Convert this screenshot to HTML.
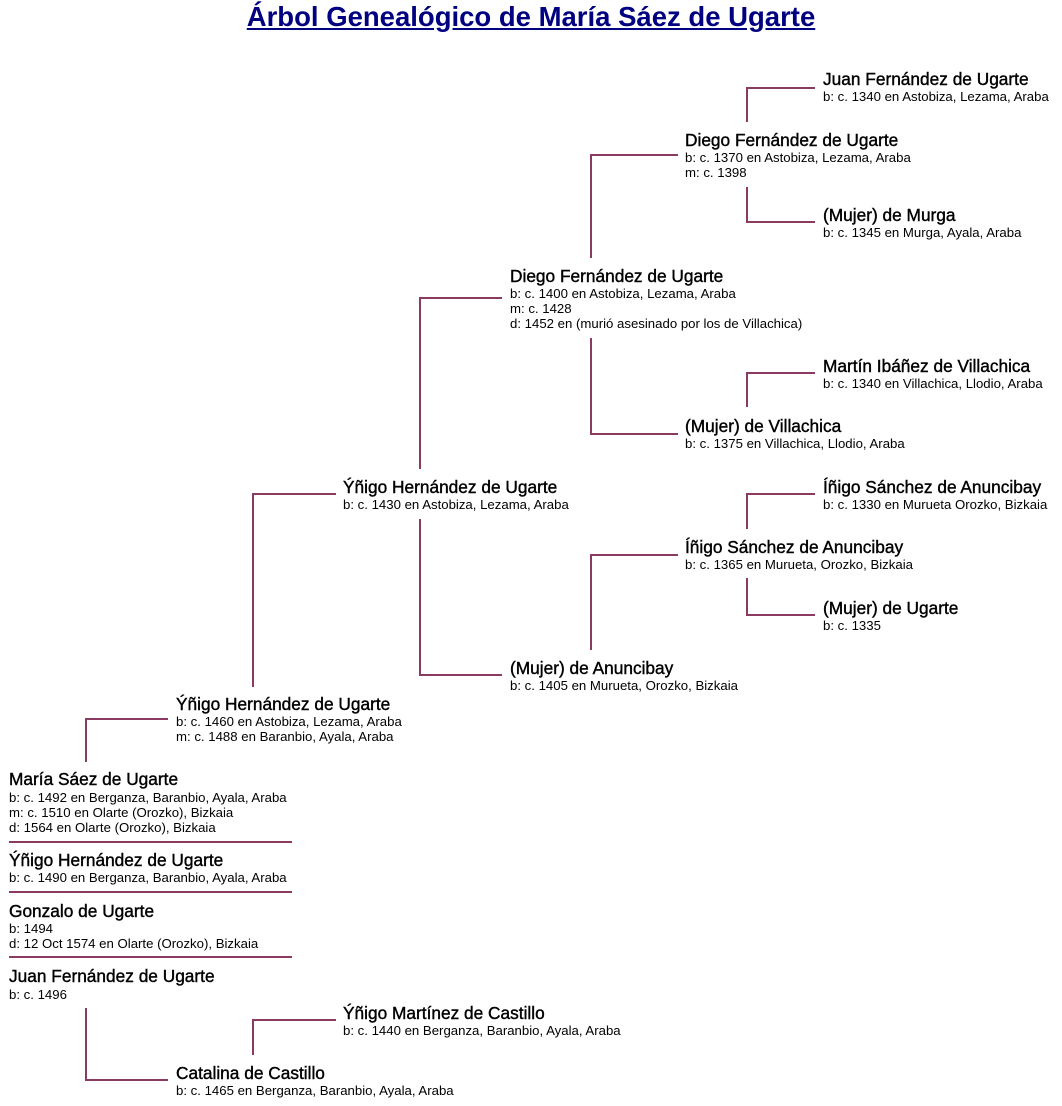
<!DOCTYPE html>
<html><head><meta charset="utf-8">
<style>
body{margin:0;width:1062px;height:1106px;background:#fff;position:relative;font-family:"Liberation Sans",Arial,sans-serif;overflow:hidden}
h1{position:absolute;left:0;width:1062px;top:1px;margin:0;text-align:center;font-size:27.5px;line-height:32px;color:#000080;text-decoration:underline;font-weight:bold}
.n{position:absolute;white-space:nowrap;color:#000}
.n b{display:block;font-size:17.3px;line-height:16px;padding-top:1px;font-weight:normal;-webkit-text-stroke:0.4px #000}
.n div{font-size:13.2px;line-height:15px;margin-top:2px}
</style></head><body>
<h1>Árbol Genealógico de María Sáez de Ugarte</h1>
<svg width="1062" height="1106" style="position:absolute;left:0;top:0" fill="none" stroke="#8b3a62" stroke-width="2">
<path d="M747 122V88H815"/>
<path d="M747 187V222H815"/>
<path d="M591 258V155H678"/>
<path d="M591 338V434H678"/>
<path d="M747 407V373H815"/>
<path d="M420 469V298H502"/>
<path d="M420 519V675H502"/>
<path d="M747 529V494H815"/>
<path d="M591 650V555H678"/>
<path d="M747 578V615H815"/>
<path d="M253 687V494H336"/>
<path d="M86 762V719H168"/>
<path d="M86 1008V1080H168"/>
<path d="M253 1055V1020H336"/>
<path d="M9 842H292M9 892H292M9 957H292"/>
</svg>
<div class="n" style="left:823px;top:70px"><b>Juan Fernández de Ugarte</b><div>b: c. 1340 en Astobiza, Lezama, Araba</div></div>
<div class="n" style="left:685px;top:131px"><b>Diego Fernández de Ugarte</b><div>b: c. 1370 en Astobiza, Lezama, Araba<br>m: c. 1398</div></div>
<div class="n" style="left:823px;top:206px"><b>(Mujer) de Murga</b><div>b: c. 1345 en Murga, Ayala, Araba</div></div>
<div class="n" style="left:510px;top:267px"><b>Diego Fernández de Ugarte</b><div>b: c. 1400 en Astobiza, Lezama, Araba<br>m: c. 1428<br>d: 1452 en (murió asesinado por los de Villachica)</div></div>
<div class="n" style="left:823px;top:357px"><b>Martín Ibáñez de Villachica</b><div>b: c. 1340 en Villachica, Llodio, Araba</div></div>
<div class="n" style="left:685px;top:417px"><b>(Mujer) de Villachica</b><div>b: c. 1375 en Villachica, Llodio, Araba</div></div>
<div class="n" style="left:343px;top:478px"><b>Ýñigo Hernández de Ugarte</b><div>b: c. 1430 en Astobiza, Lezama, Araba</div></div>
<div class="n" style="left:823px;top:478px"><b>Íñigo Sánchez de Anuncibay</b><div>b: c. 1330 en Murueta Orozko, Bizkaia</div></div>
<div class="n" style="left:685px;top:538px"><b>Íñigo Sánchez de Anuncibay</b><div>b: c. 1365 en Murueta, Orozko, Bizkaia</div></div>
<div class="n" style="left:823px;top:599px"><b>(Mujer) de Ugarte</b><div>b: c. 1335</div></div>
<div class="n" style="left:510px;top:659px"><b>(Mujer) de Anuncibay</b><div>b: c. 1405 en Murueta, Orozko, Bizkaia</div></div>
<div class="n" style="left:176px;top:695px"><b>Ýñigo Hernández de Ugarte</b><div>b: c. 1460 en Astobiza, Lezama, Araba<br>m: c. 1488 en Baranbio, Ayala, Araba</div></div>
<div class="n" style="left:9px;top:770px"><b>María Sáez de Ugarte</b><div style="margin-top:3px">b: c. 1492 en Berganza, Baranbio, Ayala, Araba<br>m: c. 1510 en Olarte (Orozko), Bizkaia<br>d: 1564 en Olarte (Orozko), Bizkaia</div></div>
<div class="n" style="left:9px;top:851px"><b>Ýñigo Hernández de Ugarte</b><div>b: c. 1490 en Berganza, Baranbio, Ayala, Araba</div></div>
<div class="n" style="left:9px;top:902px"><b>Gonzalo de Ugarte</b><div>b: 1494<br>d: 12 Oct 1574 en Olarte (Orozko), Bizkaia</div></div>
<div class="n" style="left:9px;top:967px"><b>Juan Fernández de Ugarte</b><div style="margin-top:3px">b: c. 1496</div></div>
<div class="n" style="left:343px;top:1004px"><b>Ýñigo Martínez de Castillo</b><div>b: c. 1440 en Berganza, Baranbio, Ayala, Araba</div></div>
<div class="n" style="left:176px;top:1064px"><b>Catalina de Castillo</b><div>b: c. 1465 en Berganza, Baranbio, Ayala, Araba</div></div>
</body></html>
